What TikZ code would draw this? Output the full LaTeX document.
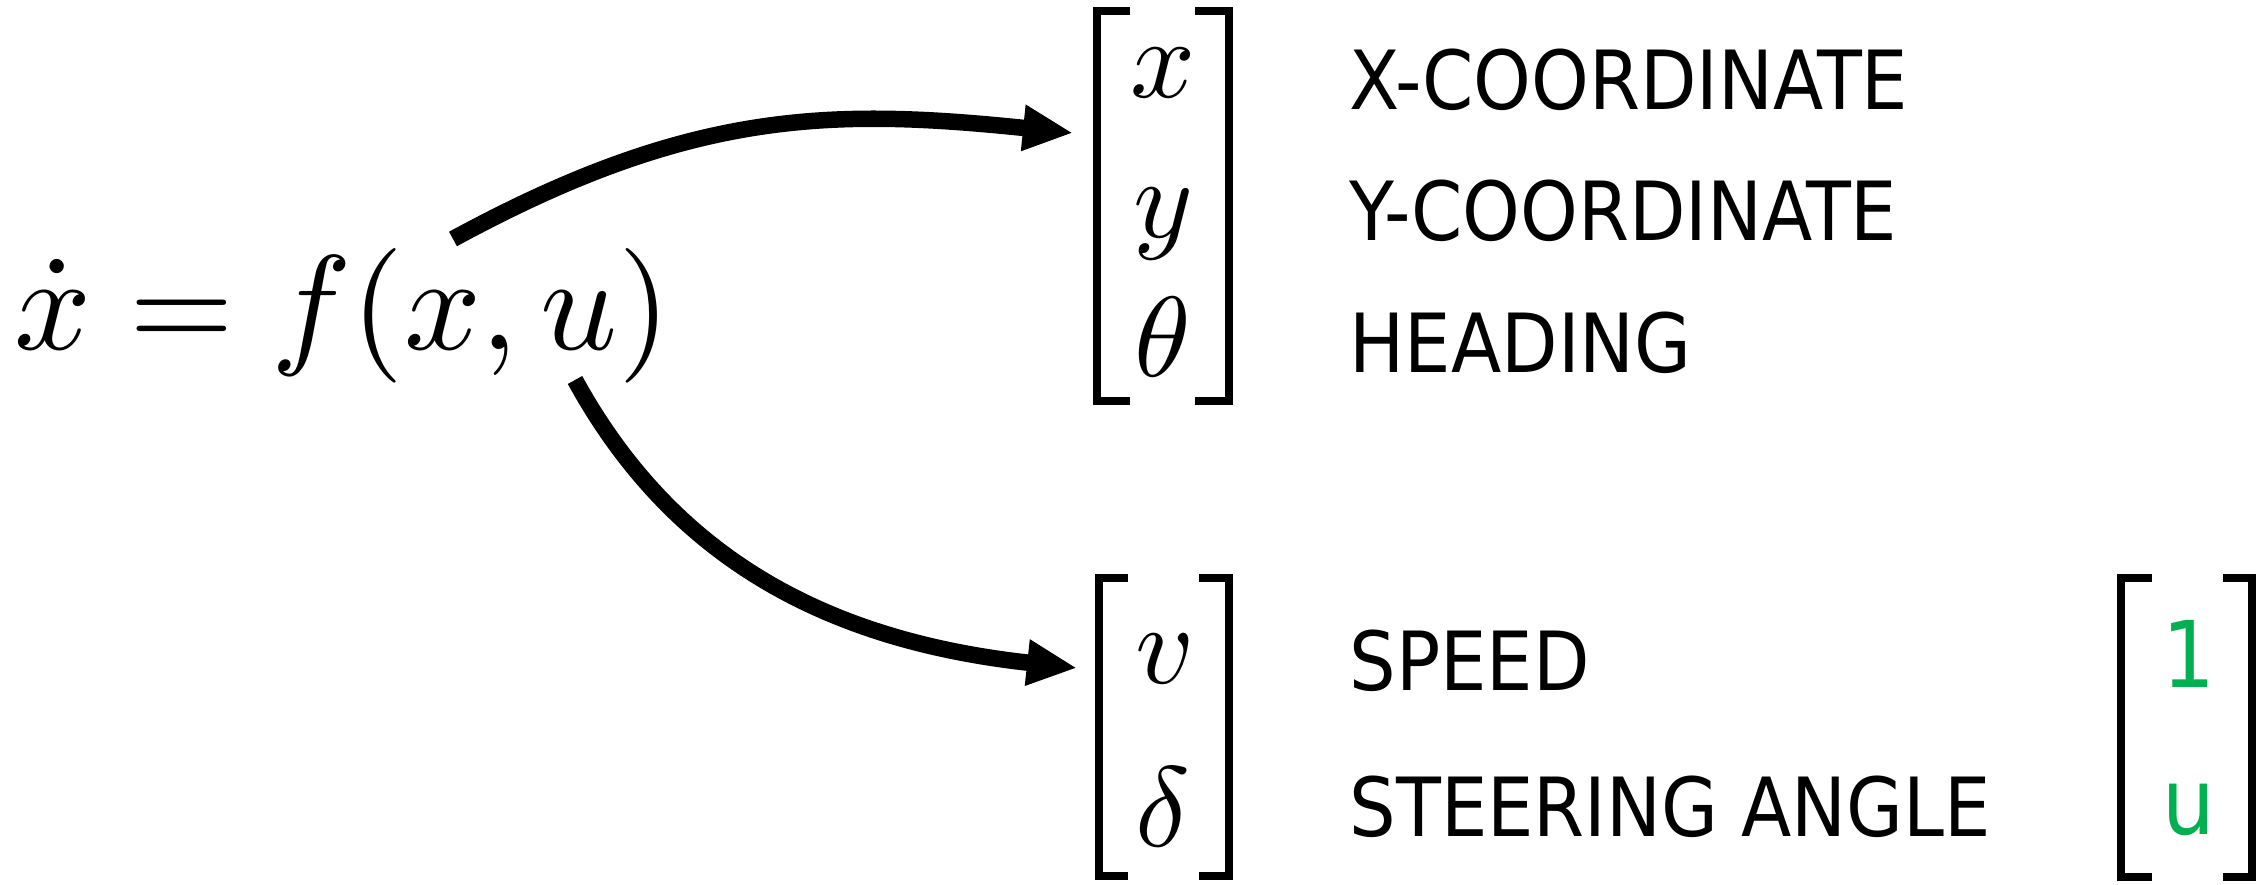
\documentclass[tikz,border=0pt]{standalone}
\usepackage{fontspec}
\newfontfamily\lblfont{DejaVu Sans Condensed}
\usetikzlibrary{arrows.meta}
\definecolor{grn}{HTML}{00B050}
\begin{document}
\begin{tikzpicture}[x=0.01cm,y=-0.01cm,
  lab/.style={font=\lblfont\fontsize{23.2}{27}\selectfont, anchor=base west, inner sep=0},
  mlet/.style={font=\fontsize{10}{12}\selectfont, scale=3.24, anchor=base, inner sep=0},
  brk/.style={line width=0.08cm, line join=miter},
  arr/.style={line width=0.165cm, -{Triangle[length=0.5cm,width=0.43cm]}},
  grnlab/.style={font=\lblfont\fontsize{26.2}{30}\selectfont, text=grn, anchor=base, inner sep=0}]
\useasboundingbox (0,0) rectangle (2267,885);

\node[inner sep=0, anchor=base west, font=\fontsize{10}{12}\selectfont, scale=3.83] (eq) at (12,349) {$\dot x = f(x,u)$};

% state bracket
\draw[brk] (1130,11) -- (1097,11) -- (1097,401) -- (1130,401);
\draw[brk] (1195,11) -- (1229,11) -- (1229,401) -- (1195,401);
% input bracket
\draw[brk] (1128,578) -- (1099,578) -- (1099,876) -- (1128,876);
\draw[brk] (1199,578) -- (1229,578) -- (1229,876) -- (1199,876);
% green bracket
\draw[brk] (2152,578) -- (2121,578) -- (2121,877) -- (2152,877);
\draw[brk] (2223,578) -- (2252,578) -- (2252,877) -- (2223,877);

\node[mlet] (mx) at (1163,98) {$x$};
\node[mlet] (my) at (1163,237) {$y$};
\node[mlet] (mth) at (1163,376) {$\theta$};
\node[mlet] (mv) at (1165,683) {$v$};
\node[mlet] (md) at (1163,846) {$\delta$};

\node[lab] (lx) at (1349,110) {X-COORDINATE};
\node[lab] (ly) at (1349,241) {Y-COORDINATE};
\node[lab] (lth) at (1349,372) {HEADING};
\node[lab] (lv) at (1349,690) {SPEED};
\node[lab] (ld) at (1349,836) {STEERING ANGLE};

\node[grnlab] (g1) at (2189,687) {1};
\node[grnlab] (gu) at (2189,834) {u};

\coordinate (s1) at (453,239);
\coordinate (t1) at (1073,133);
\draw[arr] (s1) .. controls (690,110) and (830,108) .. (t1);
\coordinate (s2) at (575,380);
\coordinate (t2) at (1077,668);
\draw[arr] (s2) .. controls (670,553) and (820,640) .. (t2);
\end{tikzpicture}
\end{document}
